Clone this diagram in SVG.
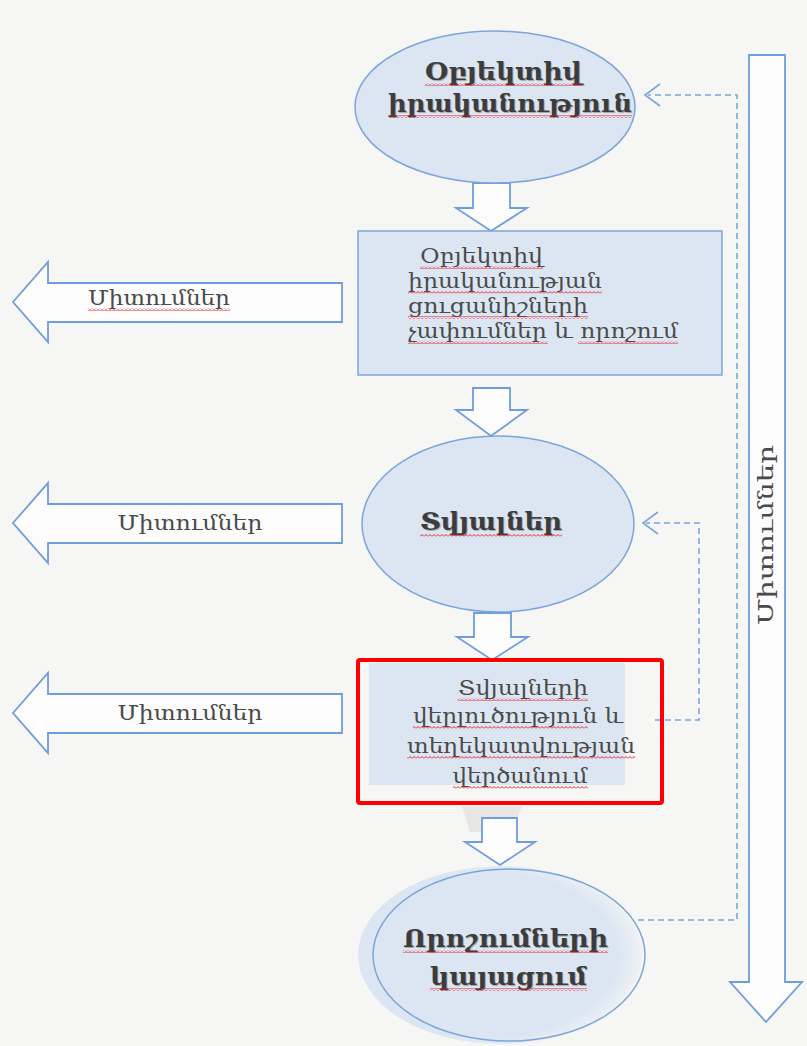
<svg xmlns="http://www.w3.org/2000/svg" width="807" height="1046" viewBox="0 0 807 1046">
<defs>
<style>
.bg{fill:#f6f6f5}
.node{fill:#dce6f2;stroke:#7ba5da;stroke-width:1.5}
.blk{fill:#fcfcfc;stroke:#6e9ddb;stroke-width:1.8;stroke-linejoin:miter}
.dash{fill:none;stroke:#7ba5da;stroke-width:1.6;stroke-dasharray:6,4}
.chev{fill:none;stroke:#7ba5da;stroke-width:1.6}
.t{font-family:"DejaVu Serif","DejaVu Sans",serif;fill:#4a4a4a;font-size:20px}
.tb{font-family:"DejaVu Serif","DejaVu Sans",serif;fill:#3c3c3c;font-size:25px;font-weight:bold}
.sh{fill:#aaaaaa}
.wv{fill:url(#wavy)}
</style>
<pattern id="wavy" width="4" height="3" patternUnits="userSpaceOnUse">
<path d="M0,2.5 L2,0.5 L4,2.5" fill="none" stroke="#e8121a" stroke-width="0.9"/>
</pattern>
<radialGradient id="glow" cx="0.45" cy="0.5" r="0.55">
<stop offset="0" stop-color="#dce6f2"/>
<stop offset="0.85" stop-color="#dce6f2"/>
<stop offset="1" stop-color="#dce6f2" stop-opacity="0.3"/>
</radialGradient>
</defs>
<rect class="bg" x="0" y="0" width="807" height="1046"/>

<g id="connectors">
<path class="dash" d="M638,920 H737 V95 H648"/>
<path class="chev" d="M660,84 L645,95 L660,106"/>
<path class="dash" d="M655,720 H699 V523 H646"/>
<path class="chev" d="M658,512 L643,523 L658,534"/>
<polygon class="blk" points="473,183 510,183 510,208 527,208 491,231 456,208 473,208"/>
<polygon class="blk" points="473,388 510,388 510,410 527,410 491,436 456,410 473,410"/>
<polygon class="blk" points="474,613 511,613 511,637 528,637 492,660 457,637 474,637"/>
<polygon points="462,806 522,806 512,832 470,832" fill="#c8c8c8" opacity="0.35"/>
<polygon class="blk" points="482,818 517,818 517,842 535,842 500,865 465,842 482,842"/>
</g>

<g id="n1">
<ellipse class="node" cx="495" cy="107" rx="140" ry="76"/>
<text class="tb sh" x="504.5" y="81" text-anchor="middle" textLength="157" lengthAdjust="spacingAndGlyphs">Օբյեկտիվ</text>
<text class="tb" x="503.5" y="80" text-anchor="middle" textLength="157" lengthAdjust="spacingAndGlyphs">Օբյեկտիվ</text>
<rect class="wv" x="425" y="83" width="157" height="3"/>
<text class="tb sh" x="511" y="113" text-anchor="middle" textLength="244" lengthAdjust="spacingAndGlyphs">իրականություն</text>
<text class="tb" x="510" y="112" text-anchor="middle" textLength="244" lengthAdjust="spacingAndGlyphs">իրականություն</text>
<rect class="wv" x="388" y="115" width="244" height="3"/>
</g>

<g id="n2">
<rect class="node" x="358" y="231" width="364" height="144"/>
<text class="t" x="420" y="263" textLength="123" lengthAdjust="spacingAndGlyphs">Օբյեկտիվ</text>
<rect class="wv" x="420" y="266" width="123" height="3"/>
<text class="t" x="408" y="288" textLength="194" lengthAdjust="spacingAndGlyphs">իրականության</text>
<rect class="wv" x="408" y="291" width="194" height="3"/>
<text class="t" x="408" y="313" textLength="180" lengthAdjust="spacingAndGlyphs">ցուցանիշների</text>
<rect class="wv" x="408" y="316" width="180" height="3"/>
<text class="t" x="408" y="338" textLength="270" lengthAdjust="spacingAndGlyphs">չափումներ և որոշում</text>
<rect class="wv" x="408" y="341" width="140" height="3"/>
<rect class="wv" x="578" y="341" width="100" height="3"/>
</g>

<g id="m1">
<polygon class="blk" points="13,302 48,262 48,283 342,283 342,322 48,322 48,342"/>
<text class="t" x="159" y="305" text-anchor="middle" textLength="142" lengthAdjust="spacingAndGlyphs">Միտումներ</text>
<rect class="wv" x="88" y="308" width="142" height="3"/>
</g>

<g id="n3">
<ellipse class="node" cx="498" cy="524" rx="136" ry="88"/>
<text class="tb sh" x="492" y="531" text-anchor="middle" textLength="142" lengthAdjust="spacingAndGlyphs">Տվյալներ</text>
<text class="tb" x="491" y="530" text-anchor="middle" textLength="142" lengthAdjust="spacingAndGlyphs">Տվյալներ</text>
<rect class="wv" x="420" y="534" width="142" height="3"/>
</g>

<g id="m2">
<polygon class="blk" points="13,523 48,483 48,504 342,504 342,543 48,543 48,563"/>
<text class="t" x="190" y="530" text-anchor="middle" textLength="145" lengthAdjust="spacingAndGlyphs">Միտումներ</text>
</g>

<g id="n4">
<rect x="369" y="663" width="256" height="122" fill="#dce6f2"/>
<rect x="358" y="660" width="304" height="143" fill="none" stroke="#ff0000" stroke-width="4" rx="2"/>
<text class="t" x="523" y="695" text-anchor="middle" textLength="130" lengthAdjust="spacingAndGlyphs">Տվյալների</text>
<rect class="wv" x="458" y="698" width="130" height="3"/>
<text class="t" x="518" y="723" text-anchor="middle" textLength="210" lengthAdjust="spacingAndGlyphs">վերլուծություն և</text>
<rect class="wv" x="413" y="726" width="175" height="3"/>
<text class="t" x="521" y="753" text-anchor="middle" textLength="228" lengthAdjust="spacingAndGlyphs">տեղեկատվության</text>
<rect class="wv" x="407" y="756" width="228" height="3"/>
<text class="t" x="520" y="783" text-anchor="middle" textLength="135" lengthAdjust="spacingAndGlyphs">վերծանում</text>
<rect class="wv" x="453" y="786" width="135" height="3"/>
</g>

<g id="m3">
<polygon class="blk" points="13,713 48,673 48,694 342,694 342,733 48,733 48,753"/>
<text class="t" x="190" y="720" text-anchor="middle" textLength="145" lengthAdjust="spacingAndGlyphs">Միտումներ</text>
</g>

<g id="n5">
<ellipse cx="500" cy="955" rx="142" ry="89" fill="url(#glow)"/>
<ellipse cx="509" cy="955" rx="136" ry="86" fill="none" stroke="#7ba5da" stroke-width="1.5"/>
<text class="tb sh" x="506.5" y="948" text-anchor="middle" textLength="205" lengthAdjust="spacingAndGlyphs">Որոշումների</text>
<text class="tb" x="505.5" y="947" text-anchor="middle" textLength="205" lengthAdjust="spacingAndGlyphs">Որոշումների</text>
<rect class="wv" x="403" y="950" width="205" height="3"/>
<text class="tb sh" x="509.5" y="986" text-anchor="middle" textLength="157" lengthAdjust="spacingAndGlyphs">կայացում</text>
<text class="tb" x="508.5" y="985" text-anchor="middle" textLength="157" lengthAdjust="spacingAndGlyphs">կայացում</text>
<rect class="wv" x="430" y="988" width="157" height="3"/>
</g>

<g id="m4">
<polygon class="blk" points="749,55 785,55 785,982 802,982 766,1022 730,982 749,982"/>
<text class="t" x="766" y="535" text-anchor="middle" transform="rotate(-90 766 535)" dy="7" textLength="180" lengthAdjust="spacingAndGlyphs">Միտումներ</text>
</g>
</svg>
